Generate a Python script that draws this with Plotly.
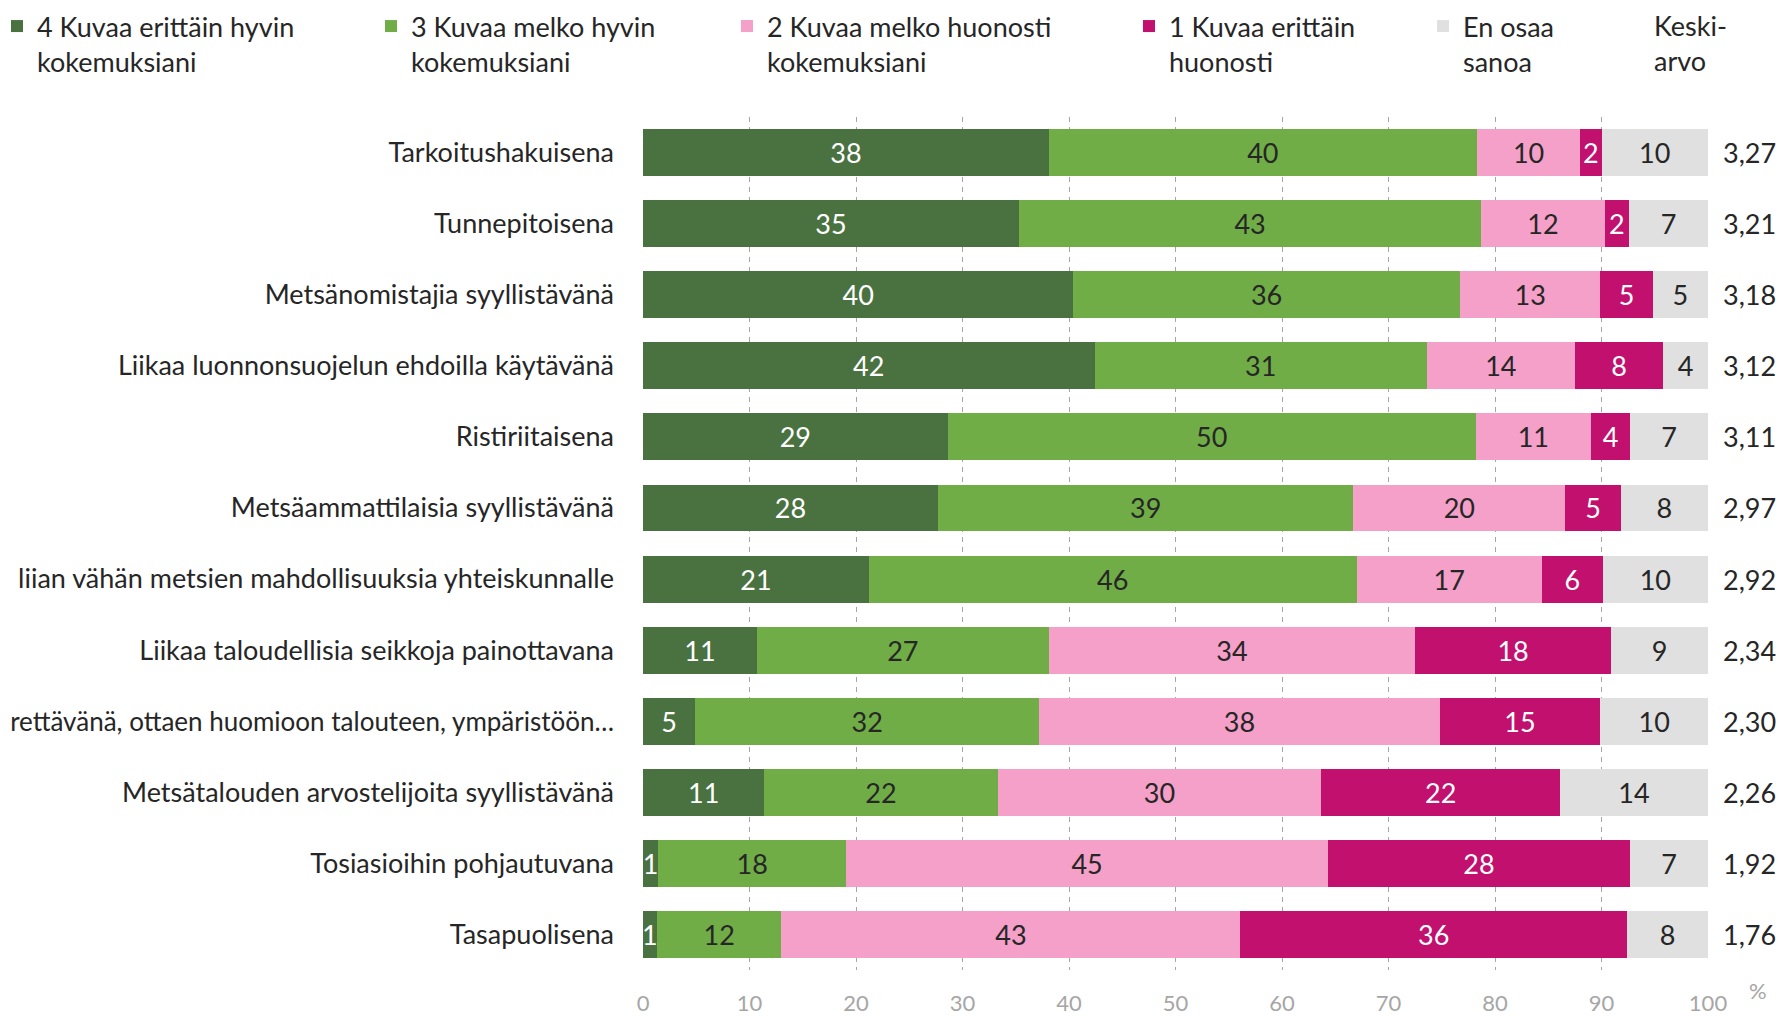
import plotly.graph_objects as go

categories = [
    "Tarkoitushakuisena",
    "Tunnepitoisena",
    "Metsänomistajia syyllistävänä",
    "Liikaa luonnonsuojelun ehdoilla käytävänä",
    "Ristiriitaisena",
    "Metsäammattilaisia syyllistävänä",
    "liian vähän metsien mahdollisuuksia yhteiskunnalle",
    "Liikaa taloudellisia seikkoja painottavana",
    "rettävänä, ottaen huomioon talouteen, ympäristöön…",
    "Metsätalouden arvostelijoita syyllistävänä",
    "Tosiasioihin pohjautuvana",
    "Tasapuolisena",
]

series_names = [
    "4 Kuvaa erittäin hyvin<br>kokemuksiani",
    "3 Kuvaa melko hyvin<br>kokemuksiani",
    "2 Kuvaa melko huonosti<br>kokemuksiani",
    "1 Kuvaa erittäin<br>huonosti",
    "En osaa<br>sanoa",
]

v4 = [38.1, 35.3, 40.4, 42.4, 28.6, 27.7, 21.2, 10.7, 4.9, 11.4, 1.4, 1.3]
v3 = [40.2, 43.4, 36.3, 31.2, 49.6, 39.0, 45.8, 27.4, 32.3, 21.9, 17.7, 11.7]
v2 = [9.7, 11.6, 13.2, 13.9, 10.8, 19.9, 17.4, 34.4, 37.6, 30.4, 45.2, 43.1]
v1 = [2.0, 2.3, 4.9, 8.3, 3.7, 5.2, 5.7, 18.4, 15.1, 22.4, 28.4, 36.3]
v0 = [10.0, 7.4, 5.2, 4.2, 7.3, 8.2, 9.9, 9.1, 10.1, 13.9, 7.3, 7.6]

means = ["3,27", "3,21", "3,18", "3,12", "3,11", "2,97", "2,92", "2,34", "2,30", "2,26", "1,92", "1,76"]

x_ticks = [0, 10, 20, 30, 40, 50, 60, 70, 80, 90, 100]

colors = ["#4a7140", "#70ad47", "#f4a0c8", "#c2106e", "#e0e0e0"]
text_colors = ["#ffffff", "#262626", "#262626", "#ffffff", "#262626"]
series_values = [v4, v3, v2, v1, v0]

FONT = "Lato"
FS = 27
OFF = 8  # page body margin
W, H = 1786 - OFF, 1016 - OFF
L, R, T, B = 643 - OFF, 78, 117 - OFF, 46
PW = W - L - R
PH = H - T - B

legend_px = [11, 385, 741, 1143, 1437]
legend_names = ["legend", "legend2", "legend3", "legend4", "legend5"]

# the truncated label gets a slightly smaller font so it stays inside the page
tick_text = [f'<span style="font-size:26px">{c}</span>' if "…" in c else c for c in categories]

fig = go.Figure()
for i, (name, vals) in enumerate(zip(series_names, series_values)):
    fig.add_trace(go.Bar(
        y=categories, x=vals, name=name, orientation="h",
        marker=dict(color=colors[i], line=dict(width=0)),
        text=vals, texttemplate="%{x:.0f}", textposition="inside",
        insidetextanchor="middle", textangle=0,
        textfont=dict(family=FONT, size=FS, color=text_colors[i]),
        legend=legend_names[i], hoverinfo="skip",
    ))

for cat, m in zip(categories, means):
    fig.add_annotation(x=100, y=cat, xref="x", yref="y", text=m, showarrow=False,
                       xanchor="left", xshift=13,
                       font=dict(family=FONT, size=FS, color="#262626"))

fig.add_annotation(x=(1652 - OFF - L) / PW, y=1 + (T + 1) / PH, xref="paper", yref="paper",
                   text="Keski-<br>arvo", showarrow=False, xanchor="left", yanchor="top",
                   align="left", font=dict(family=FONT, size=FS, color="#262626"))
fig.add_annotation(x=1, y=0, xref="paper", yref="paper", text="%", showarrow=False,
                   xanchor="left", yanchor="top", xshift=39, yshift=-5,
                   font=dict(family=FONT, size=22, color="#a6a6a6"))

layout_legends = {}
for name, px in zip(legend_names, legend_px):
    layout_legends[name] = dict(
        x=(px - OFF - 14 - L) / PW, y=1 + (T + 6) / PH, xanchor="left", yanchor="top",
        orientation="v", valign="top", bgcolor="rgba(0,0,0,0)",
        font=dict(family=FONT, size=FS, color="#262626"), itemclick=False,
    )

fig.update_layout(
    width=W, height=H, barmode="stack", bargap=0.34,
    margin=dict(l=L, r=R, t=T, b=B, autoexpand=False),
    plot_bgcolor="white", paper_bgcolor="white",
    font=dict(family=FONT, size=FS, color="#262626"),
    uniformtext=dict(minsize=FS, mode="show"),
    showlegend=True,
    **layout_legends,
)
fig.update_xaxes(range=[0, 100], tickvals=x_ticks, showgrid=True, gridcolor="#a6a6a6",
                 griddash="5px,5px", gridwidth=1, zeroline=False, showline=False,
                 tickfont=dict(family=FONT, size=22, color="#a6a6a6"), ticklabelstandoff=18,
                 fixedrange=True, automargin=False)
fig.update_yaxes(categoryorder="array", categoryarray=categories, autorange="reversed",
                 tickmode="array", tickvals=categories, ticktext=tick_text,
                 showgrid=False, zeroline=False, showline=False, ticklabelstandoff=28,
                 tickfont=dict(family=FONT, size=FS, color="#262626"), fixedrange=True,
                 automargin=False)

fig.write_html("out.html")
